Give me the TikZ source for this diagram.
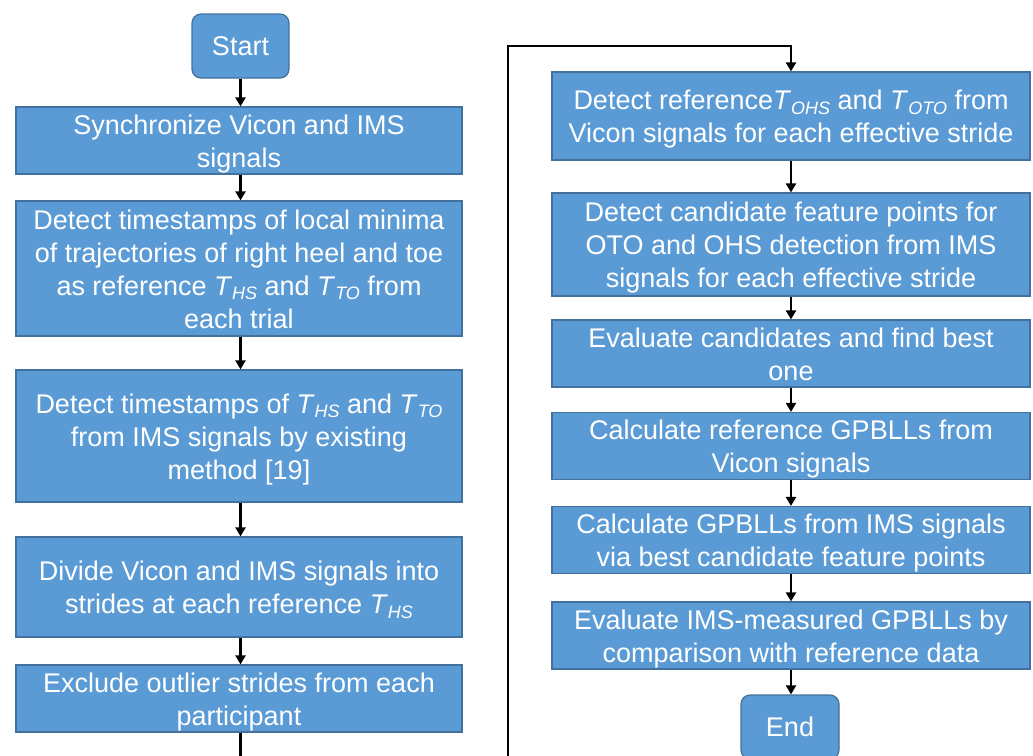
\documentclass[tikz,border=0pt]{standalone}
\usepackage{fontspec}
\setmainfont{Liberation Sans}
\usetikzlibrary{arrows.meta}
\definecolor{boxfill}{HTML}{5B9BD5}
\definecolor{boxline}{HTML}{41719C}
\newcommand\Tx[1]{\textit{T}\raisebox{-0.32ex}{\fontsize{18}{18}\selectfont\textit{#1}}}
\newcommand\up{\rule{0pt}{27pt}}
\newcommand\dn{\rule[-7pt]{0pt}{7pt}}
\tikzset{
  proc/.style={draw=boxline, line width=1.2pt, fill=boxfill, text=white, align=center,
    inner sep=0pt, font=\fontsize{27}{33}\selectfont},
  term/.style={proc, rounded corners=9pt},
  flow/.style={line width=2.8pt, -{Triangle[length=9pt,width=10pt]}},
}
\begin{document}
\begin{tikzpicture}[x=1pt,y=-1pt]
\useasboundingbox (0,0) rectangle (1033,755);
% left column
\node[term, minimum width=97pt, minimum height=64pt] (start) at (240.5,46) {Start};
\node[proc, minimum width=446pt, minimum height=63pt] (b1) at (239,140.5) {\up Synchronize Vicon and IMS\\signals\dn};
\node[proc, minimum width=446pt, minimum height=135pt] (b2) at (239,268.5) {\up Detect timestamps of local minima\\of trajectories of right heel and toe\\as reference \Tx{HS} and \Tx{TO} from\\each trial\dn};
\node[proc, minimum width=446pt, minimum height=132pt] (b3) at (239,436) {\up Detect timestamps of \Tx{HS} and \Tx{TO}\\from IMS signals by existing\\method [19]\dn};
\node[proc, minimum width=446pt, minimum height=100pt] (b4) at (239,587) {\up Divide Vicon and IMS signals into\\strides at each reference \Tx{HS}\dn};
\node[proc, minimum width=446pt, minimum height=61pt] (b5) at (239,698.5) {\up Exclude outlier strides from each\\participant\dn};
% right column
\node[proc, minimum width=478pt, minimum height=88pt] (r1) at (791,116) {\up Detect reference\Tx{OHS} and \Tx{OTO} from\\Vicon signals for each effective stride\dn};
\node[proc, minimum width=478pt, minimum height=103pt] (r2) at (791,244.5) {\up Detect candidate feature points for\\OTO and OHS detection from IMS\\signals for each effective stride\dn};
\node[proc, minimum width=478pt, minimum height=61pt] (r3) at (791,353.5) {\up Evaluate candidates and find best\\one\dn};
\node[proc, minimum width=478pt, minimum height=64pt] (r4) at (791,446) {\up Calculate reference GPBLLs from\\Vicon signals\dn};
\node[proc, minimum width=478pt, minimum height=64pt] (r5) at (791,540) {\up Calculate GPBLLs from IMS signals\\via best candidate feature points\dn};
\node[proc, minimum width=478pt, minimum height=65pt] (r6) at (791,635.5) {\up Evaluate IMS-measured GPBLLs by\\comparison with reference data\dn};
\node[term, minimum width=98pt, minimum height=64pt] (end) at (790,727) {End};
% connectors
\draw[flow] (start) -- (start |- b1.north);
\draw[flow] (start |- b1.south) -- (start |- b2.north);
\draw[flow] (start |- b2.south) -- (start |- b3.north);
\draw[flow] (start |- b3.south) -- (start |- b4.north);
\draw[flow] (start |- b4.south) -- (start |- b5.north);
\coordinate (lowL) at (240.5,770);
\coordinate (lowR) at (508,770);
\coordinate (topR) at (508,46);
\draw[flow] (start |- b5.south) -- (lowL) -- (lowR) -- (topR) -| (r1.north);
\draw[flow] (r1) -- (r2);
\draw[flow] (r2) -- (r3);
\draw[flow] (r3) -- (r4);
\draw[flow] (r4) -- (r5);
\draw[flow] (r5) -- (r6);
\draw[flow] (r6.south) -- (r6.south |- end.north);
\end{tikzpicture}
\end{document}
